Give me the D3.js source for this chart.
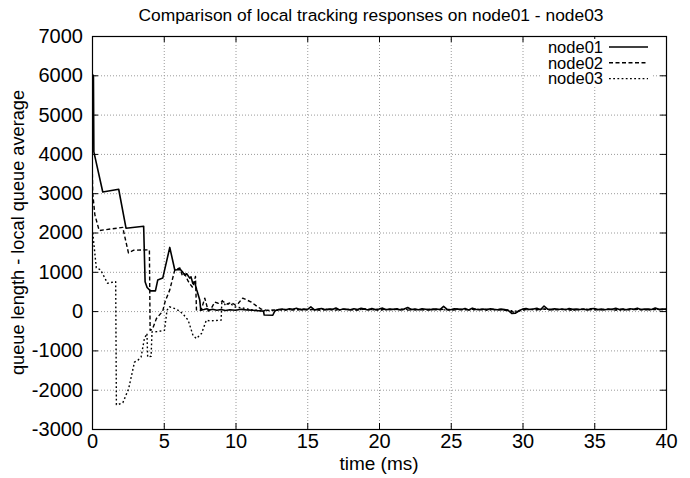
<!DOCTYPE html>
<html>
<head>
<meta charset="utf-8">
<script src="https://cdn.jsdelivr.net/npm/d3@7"></script>
<style>
  body { margin: 0; background: #fff; }
  text { font-family: "Liberation Sans", Arial, Helvetica, sans-serif; fill: #000; }
</style>
</head>
<body>
<svg id="chart"></svg>
<script>
// ---- data (time in ms, value) ----
const xTicks = [0, 5, 10, 15, 20, 25, 30, 35, 40];
const yTicks = [-3000, -2000, -1000, 0, 1000, 2000, 3000, 4000, 5000, 6000, 7000];
const seriesNames = ["node01", "node02", "node03"];

const node01Head = [
  [0, 6000], [0.1, 6000], [0.13, 4050], [0.75, 3030], [1.86, 3100], [2.37, 2110], [3.6, 2160],
  [3.7, 745], [3.84, 600], [4.07, 515], [4.42, 515], [4.58, 790], [4.93, 840],
  [5.42, 1620], [5.77, 1045], [6.16, 1060], [6.3, 1000], [6.46, 915], [6.6, 950],
  [6.81, 840], [6.9, 870], [7.02, 710], [7.15, 740], [7.3, 535], [7.51, 280],
  [7.58, 25], [7.8, 40], [8.0, 60], [8.2, 30], [8.4, 45], [8.7, 20], [9.0, 40],
  [9.3, 15], [9.6, 35], [10, 20], [10.4, 45], [10.8, 30], [11.2, 20], [11.6, 10],
  [11.95, 0], [12.0, -100], [12.6, -105], [12.75, 10]
];
const node02Head = [
  [0, 4000], [0.05, 3000], [0.2, 2450], [0.5, 2050], [2.14, 2130], [2.54, 1480],
  [2.91, 1550], [4.0, 1560], [4.05, -490], [4.2, -470], [4.49, -190], [4.93, 0],
  [5.1, 250], [5.42, 540], [5.77, 1050], [6.12, 1100], [6.3, 900], [6.46, 950],
  [6.7, 760], [6.81, 700], [7.02, 600], [7.21, 880], [7.28, 30], [7.6, 20],
  [7.86, 330], [8.1, 0], [8.3, 60], [8.56, 230], [8.8, 200], [9.1, 250], [9.4, 180],
  [9.7, 220], [10.0, 150], [10.2, 200], [10.5, 330], [10.8, 280], [11.1, 230],
  [11.5, 120], [11.8, 50], [12.2, 20], [12.75, 30]
];
const node03Head = [
  [0, 2100], [0.05, 2000], [0.3, 1100], [0.6, 1050], [1.08, 710], [1.65, 750],
  [1.7, -2380], [1.8, -2380], [2.15, -2330], [2.55, -1980], [2.96, -1300],
  [3.2, -1250], [3.42, -1170], [3.65, -700], [3.83, -570], [3.88, -1170],
  [4.12, -1150], [4.18, -530], [4.6, -520], [5.05, -490], [5.23, 25], [5.4, 110],
  [5.8, 60], [6.12, 0], [6.4, -100], [6.7, -230], [7.04, -620], [7.28, -700],
  [7.63, -570], [7.97, -230], [8.2, -250], [9.0, -230], [9.05, 280], [9.3, 150],
  [9.6, 200], [10.0, 100], [10.5, 80], [11.0, 40], [11.5, 20], [12.0, 10], [12.75, 20]
];

// steady-state samples from 13 ms on
const node01Tail = [ // every 0.25 ms
  40, 55, 30, 60,  45, 70, 35, 50,  40, 110, 30, 55,  65, 35, 50, 40,
  80, 30, 55, 45,  35, 60, 40, 70,  50, 30, 65, 40,  55, 75, 35, 50,
  45, 60, 30, 55,  90, 40, 50, 35,  60, 45, 30, 55,  50, 40, 120, 45,
  35, 60, 50, 40,  65, 30, 75, 45,  40, 55, 30, 60,  45, 35, 50, 40,
  20, -60, -55, 10, 50, 65, 40, 55, 70, 35, 130, 50, 45, 60, 40, 55,
  35, 65, 45, 50,  40, 55, 30, 60,  65, 40, 50, 35,  55, 45, 70, 40,
  50, 35, 60, 45,  75, 40, 55, 50,  40, 80, 45, 55,  50
];
const node02Tail = [ // every 0.5 ms
  30, 45, 25, 50, 35, 40, 20, 55, 30, 45, 35, 25, 50, 40, 30, 45, 35, 55, 25, 40,
  30, 50, 35, 45, 20, 40, 30, 45, 35, 50, 40, 30, 15, -40, 30, 45, 35, 55, 30, 40,
  45, 25, 50, 35, 40, 30, 45, 25, 50, 35, 40, 30, 45, 35, 40
];
const node03Tail = [ // every 0.5 ms
  20, 35, 45, 25, 40, 30, 50, 35, 25, 45, 40, 30, 55, 35, 25, 40, 45, 30, 50, 35,
  40, 25, 45, 30, 35, 50, 40, 30, 45, 25, 35, 40, 20, 0, 25, 40, 35, 50, 30, 45,
  40, 25, 35, 50, 30, 40, 45, 35, 25, 40, 50, 30, 35, 45, 40
];

const width = 690, height = 478;
const marginLeft = 92, marginRight = 24, marginTop = 36, marginBottom = 49;
const TICK = 6;

const x = d3.scaleLinear().domain([0, 40]).range([marginLeft, width - marginRight]);
const y = d3.scaleLinear().domain([-3000, 7000]).range([height - marginBottom, marginTop]);

const withTail = (head, tail, step) =>
  head.concat(tail.map((v, i) => [13 + i * step, v]));

const series = [
  {name: seriesNames[0], values: withTail(node01Head, node01Tail, 0.25), dash: null, w: 1.6},
  {name: seriesNames[1], values: withTail(node02Head, node02Tail, 0.5), dash: "4,2.5", w: 1.4},
  {name: seriesNames[2], values: withTail(node03Head, node03Tail, 0.5), dash: "1.8,2.4", w: 1.4}
];

const svg = d3.select("#chart")
  .attr("width", width)
  .attr("height", height)
  .attr("viewBox", [0, 0, width, height]);

svg.append("rect").attr("width", width).attr("height", height).attr("fill", "#fff");

// grid
const grid = svg.append("g").attr("stroke", "#9a9a9a").attr("stroke-width", 1)
  .attr("stroke-dasharray", "1,2");
grid.selectAll("line.gx")
  .data(xTicks.slice(1, -1))
  .join("line")
  .attr("x1", d => x(d) + 0.5).attr("x2", d => x(d) + 0.5)
  .attr("y1", y(7000)).attr("y2", y(-3000));
grid.selectAll("line.gy")
  .data(yTicks.slice(1, -1))
  .join("line")
  .attr("y1", d => y(d) + 0.5).attr("y2", d => y(d) + 0.5)
  .attr("x1", x(0)).attr("x2", x(40));

// axes with inward ticks on all four sides
function styleAxis(g) {
  g.select(".domain").remove();
  g.selectAll(".tick line").attr("stroke", "#000");
  g.selectAll(".tick text").attr("font-size", 20).attr("fill", "#000");
}

svg.append("g")
  .attr("transform", `translate(0,${y(-3000)})`)
  .call(d3.axisBottom(x).tickValues(xTicks).tickSize(-TICK).tickPadding(5))
  .call(styleAxis);

svg.append("g")
  .attr("transform", `translate(0,${y(7000)})`)
  .call(d3.axisTop(x).tickValues(xTicks).tickSize(-TICK).tickFormat(""))
  .call(styleAxis);

svg.append("g")
  .attr("transform", `translate(${x(0)},0)`)
  .call(d3.axisLeft(y).tickValues(yTicks).tickSize(-TICK).tickPadding(9))
  .call(styleAxis)
  .call(g => g.selectAll(".tick text").text(d => d < 0 ? "-" + Math.abs(d) : d));

svg.append("g")
  .attr("transform", `translate(${x(40)},0)`)
  .call(d3.axisRight(y).tickValues(yTicks).tickSize(-TICK).tickFormat(""))
  .call(styleAxis);

// lines
const line = d3.line().x(d => x(d[0])).y(d => y(d[1]));

svg.append("defs").append("clipPath").attr("id", "plot")
  .append("rect")
  .attr("x", x(0)).attr("y", y(7000))
  .attr("width", x(40) - x(0)).attr("height", y(-3000) - y(7000));

svg.append("g").attr("clip-path", "url(#plot)")
  .selectAll("path")
  .data(series.slice().reverse())
  .join("path")
  .attr("fill", "none")
  .attr("stroke", "#000")
  .attr("stroke-width", d => d.w)
  .attr("stroke-linejoin", "round")
  .attr("stroke-dasharray", d => d.dash)
  .attr("d", d => line(d.values));

// frame
svg.append("rect")
  .attr("x", x(0) + 0.5).attr("y", y(7000) + 0.5)
  .attr("width", x(40) - x(0)).attr("height", y(-3000) - y(7000))
  .attr("fill", "none").attr("stroke", "#000").attr("stroke-width", 1.2);

// legend
const legend = svg.append("g")
  .selectAll("g")
  .data(series)
  .join("g")
  .attr("transform", (d, i) => `translate(0,${47 + i * 15.8})`);

legend.append("rect")
  .attr("x", 542).attr("y", -8).attr("width", 110).attr("height", 16).attr("fill", "#fff");
legend.append("text")
  .attr("x", 603).attr("dy", "0.35em")
  .attr("text-anchor", "end")
  .attr("font-size", 16.5)
  .text(d => d.name);
legend.append("line")
  .attr("x1", 609).attr("x2", 648)
  .attr("stroke", "#000")
  .attr("stroke-width", d => d.w)
  .attr("stroke-dasharray", d => d.dash);

// titles
svg.append("text")
  .attr("x", 371).attr("y", 21)
  .attr("text-anchor", "middle")
  .attr("font-size", 17.4)
  .text("Comparison of local tracking responses on node01 - node03");

svg.append("text")
  .attr("x", (x(0) + x(40)) / 2).attr("y", 470)
  .attr("text-anchor", "middle")
  .attr("font-size", 19)
  .text("time (ms)");

svg.append("text")
  .attr("transform", `translate(24,${(y(7000) + y(-3000)) / 2}) rotate(-90)`)
  .attr("text-anchor", "middle")
  .attr("font-size", 18.2)
  .text("queue length - local queue average");
</script>
</body>
</html>
